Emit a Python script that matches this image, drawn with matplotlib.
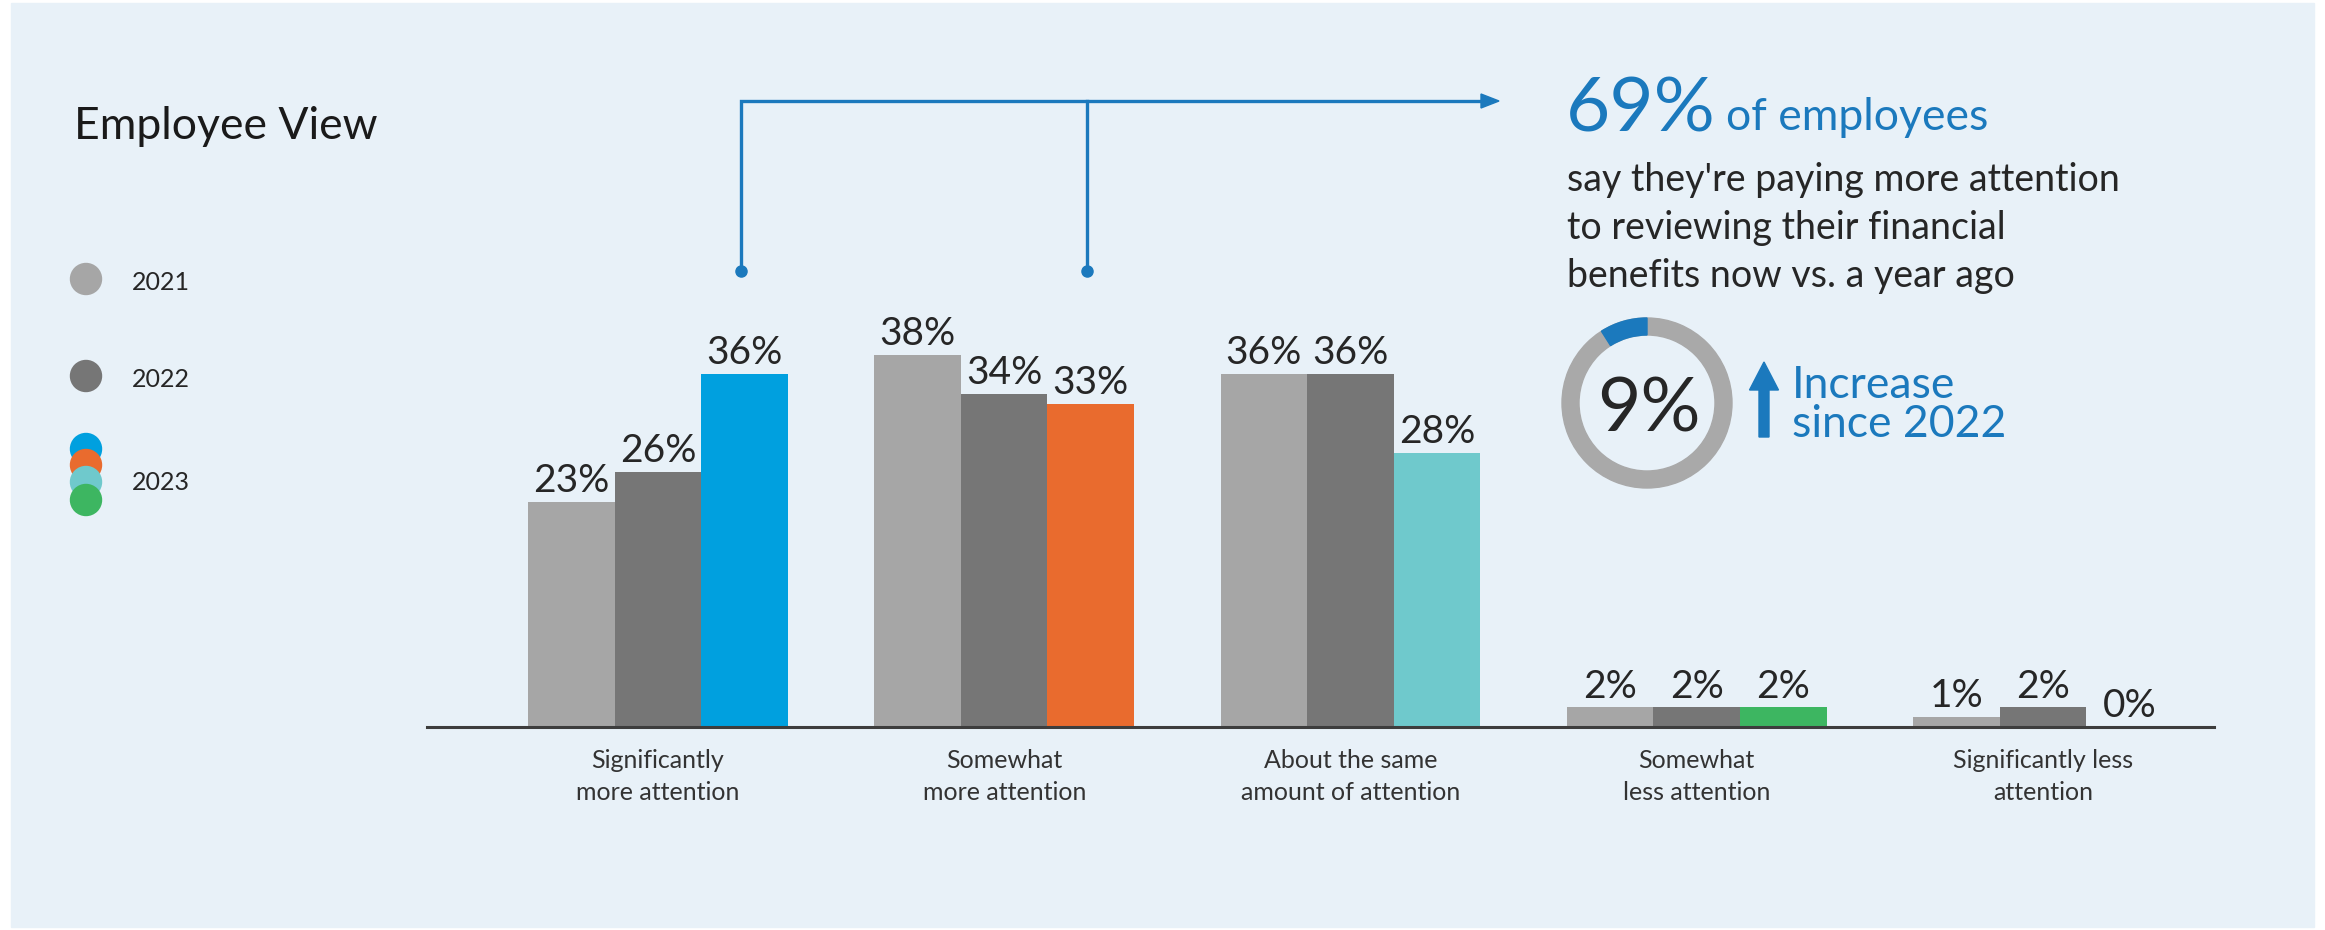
import numpy as np
import matplotlib.pyplot as plt
from matplotlib.patches import Rectangle, Circle, Wedge, FancyArrow

plt.rcParams['font.family'] = ['Lato', 'DejaVu Sans']

# Data
categories = ['Significantly\nmore attention', 'Somewhat\nmore attention',
              'About the same\namount of attention', 'Somewhat\nless attention',
              'Significantly less\nattention']
years = ['2021', '2022', '2023']
v2021 = [23, 38, 36, 2, 1]
v2022 = [26, 34, 36, 2, 2]
v2023 = [36, 33, 28, 2, 0]
headline_pct = 69
increase_pct = 9
body_lines = ["say they're paying more attention", "to reviewing their financial",
              "benefits now vs. a year ago"]

# Colours
c2021 = '#a6a6a6'
c2022 = '#767676'
c2023 = ['#00a0df', '#e96b2e', '#6fc9cc', '#3db661', '#3db661']
blue = '#1b79bd'
text_dark = '#262626'

fig = plt.figure(figsize=(23.25, 9.3), dpi=100)
fig.patch.set_facecolor('white')
fig.add_artist(Rectangle((11 / 2325, 3 / 930), 2303 / 2325, 924 / 930,
                         transform=fig.transFigure, color='#e8f1f8', zorder=-5))

# Bar chart
ax = fig.add_axes([427 / 2325, 1 - 727 / 930, 1787 / 2325, 441 / 930])
ax.set_facecolor('none')
x = np.arange(len(categories))
w = 0.25
ax.bar(x - w, v2021, w, color=c2021, zorder=2)
ax.bar(x, v2022, w, color=c2022, zorder=2)
ax.bar(x + w, v2023, w, color=c2023, zorder=2)

for vals, off in [(v2021, -w), (v2022, 0), (v2023, w)]:
    for xi, v in zip(x, vals):
        ax.annotate(f'{v}%', (xi + off, v), xytext=(0, 7), textcoords='offset points',
                    ha='center', va='baseline', fontsize=28, color=text_dark)

ax.set_xlim(-0.667, 4.494)
ax.set_ylim(0, 45)
ax.set_xticks(x, categories, fontsize=18, color='#333333', linespacing=1.45)
ax.tick_params(axis='x', length=0, pad=16)
ax.set_yticks([])
for s in ['top', 'right', 'left']:
    ax.spines[s].set_visible(False)
ax.spines['bottom'].set_color('#3d3d3d')
ax.spines['bottom'].set_linewidth(2.2)
ax.spines['bottom'].set_zorder(3)

# Overlay in pixel coordinates (y grows downwards)
ov = fig.add_axes([0, 0, 1, 1])
ov.set_facecolor('none')
ov.set_xlim(0, 2325)
ov.set_ylim(930, 0)
ov.axis('off')

ov.text(74, 139, 'Employee View', fontsize=32, color='#1a1a1a', va='baseline')

# legend
ov.add_patch(Circle((86, 279), 15.5, color=c2021))
ov.add_patch(Circle((86, 376), 15.5, color=c2022))
for cy, c in zip([449, 465, 482, 500], c2023[:4]):
    ov.add_patch(Circle((86, cy), 15.5, color=c))
for ty, lab in zip([290, 387, 490], years):
    ov.text(132, ty, lab, fontsize=18, color=text_dark, va='baseline')

# bracket
ov.plot([741, 741, 1485], [271, 101, 101], color=blue, lw=2.4, solid_joinstyle='miter')
ov.plot([1087, 1087], [101, 271], color=blue, lw=2.4)
ov.plot([741, 1087], [271, 271], 'o', color=blue, ms=8)
ov.add_patch(FancyArrow(1482, 101, 17, 0, width=0.1, head_width=14, head_length=18,
                        length_includes_head=True, color=blue))

# callout text
ov.text(1566, 132, f'{headline_pct}%', fontsize=55, color=blue, va='baseline')
ov.text(1726, 130, 'of employees', fontsize=32, color=blue, va='baseline')
for i, line in enumerate(body_lines):
    ov.text(1567, 191 + 48 * i, line, fontsize=27, color=text_dark, va='baseline')

# donut (angles are mirrored because the y axis points down)
cx, cy, r = 1647, 403, 85
ov.add_patch(Wedge((cx, cy), r, 0, 360, width=17, color='#a9a9a9'))
ov.add_patch(Wedge((cx, cy), r, 270 - 360 * increase_pct / 100, 270, width=17, color=blue))
ov.text(cx + 2, cy + 28, f'{increase_pct}%', fontsize=54, color=text_dark, ha='center',
        va='baseline')

ov.add_patch(FancyArrow(1764, 437, 0, -75, width=10, head_width=29, head_length=28,
                        length_includes_head=True, color=blue))
ov.text(1792, 437, 'Increase\nsince 2022', fontsize=32, color=blue, va='baseline',
        linespacing=0.95)

fig.savefig('out.png', dpi=100, facecolor=fig.get_facecolor())
